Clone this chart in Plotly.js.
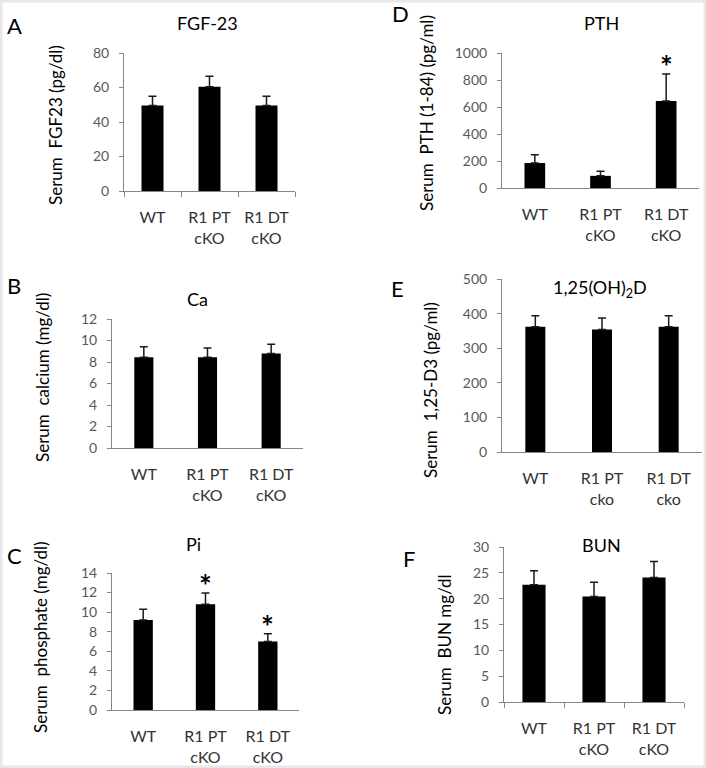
<!DOCTYPE html>
<html><head><meta charset="utf-8">
<script src="https://cdn.plot.ly/plotly-3.0.1.min.js"></script>
<style>html,body{margin:0;padding:0;background:#fff;} #chart{width:706px;height:768px;}</style>
</head><body><div id="chart"></div>
<script>
// ---- data ----
const categories = ["WT", "R1 PT cKO", "R1 DT cKO"];
const tickLabelsCKO = ["WT", "R1 PT<br>cKO", "R1 DT<br>cKO"];
const tickLabelsCko = ["WT", "R1 PT<br>cko", "R1 DT<br>cko"];

const fgf23Mean = [49.5, 60.5, 49.5];
const fgf23Err = [5.5, 6, 5.5];

const pthMean = [185, 90, 645];
const pthErr = [62, 35, 200];
const pthSig = ["", "", "*"];

const caMean = [8.45, 8.45, 8.8];
const caErr = [0.97, 0.85, 0.85];

const vitDMean = [362, 354, 362];
const vitDErr = [32, 33, 32];

const piMean = [9.2, 10.8, 7.0];
const piErr = [1.1, 1.15, 0.8];
const piSig = ["", "*", "*"];

const bunMean = [22.7, 20.4, 24.1];
const bunErr = [2.7, 2.8, 3.1];

// ---- layout helpers ----
const W = 706, H = 768;
const FONT = "Lato, 'Open Sans', sans-serif";
const px = p => p / W;
const py = p => 1 - p / H;

const panels = [
  {n:1, mean:fgf23Mean, err:fgf23Err, sig:null, labels:tickLabelsCKO, l:124, r:295, t:53, b:191, range:[0,80], dtick:20, bw:0.386, xticks:true,
   title:"FGF-23", tx:207, ty:23, letter:"A", lx:14, ly:25, ytitle:"Serum  FGF23 (pg/dl)", ytx:56, yty:125},
  {n:2, mean:pthMean, err:pthErr, sig:pthSig, labels:tickLabelsCKO, l:502, r:699, t:53, b:188, range:[0,1000], dtick:200, bw:0.315, xticks:false,
   title:"PTH", tx:601, ty:23, letter:"D", lx:400, ly:14, ytitle:"Serum  PTH (1-84) (pg/ml)", ytx:427, yty:113},
  {n:3, mean:caMean, err:caErr, sig:null, labels:tickLabelsCKO, l:112, r:303, t:319, b:448, range:[0,12], dtick:2, bw:0.30, xticks:false,
   title:"Ca", tx:197, ty:299, letter:"B", lx:14, ly:285, ytitle:"Serum  calcium (mg/dl)", ytx:42, yty:378},
  {n:4, mean:vitDMean, err:vitDErr, sig:null, labels:tickLabelsCko, l:502, r:702, t:279, b:452, range:[0,500], dtick:100, bw:0.30, xticks:false,
   title:"1,25(OH)<sub>2</sub>D", tx:600, ty:288, letter:"E", lx:398, ly:288, ytitle:"Serum  1,25-D3 (pg/ml)", ytx:430, yty:390},
  {n:5, mean:piMean, err:piErr, sig:piSig, labels:tickLabelsCKO, l:112, r:299, t:573, b:710, range:[0,14], dtick:2, bw:0.31, xticks:false,
   title:"Pi", tx:193, ty:544, letter:"C", lx:14, ly:555, ytitle:"Serum  phosphate (mg/dl)", ytx:40, yty:638},
  {n:6, mean:bunMean, err:bunErr, sig:null, labels:tickLabelsCKO, l:504, r:684, t:547, b:702, range:[0,30], dtick:5, bw:0.385, xticks:true,
   title:"BUN", tx:601, ty:545, letter:"F", lx:409, ly:558, ytitle:"Serum  BUN mg/dl", ytx:444, yty:645}
];

const traces = [];
const layout = {
  width: W, height: H,
  margin: {l:0, r:0, t:0, b:0},
  paper_bgcolor: "#ffffff", plot_bgcolor: "#ffffff",
  showlegend: false,
  font: {family: FONT, color: "#000"},
  annotations: [],
  shapes: [{type:"rect", xref:"paper", yref:"paper", x0:0, x1:1, y0:0, y1:1,
            line:{color:"#e9e6e9", width:5}, fillcolor:"rgba(0,0,0,0)"}]
};

panels.forEach(p => {
  const sfx = p.n === 1 ? "" : String(p.n);
  const xa = "x" + sfx, ya = "y" + sfx;
  traces.push({
    type: "bar", x: categories, y: p.mean, xaxis: xa, yaxis: ya,
    width: p.bw,
    marker: {color: "#000000", line: {width: 0}},
    error_y: {type: "data", symmetric: false, array: p.err, arrayminus: p.err.map(() => 0),
              color: "#1a1a1a", thickness: 1.5, width: 4},
    hoverinfo: "none"
  });
  layout["xaxis" + sfx] = {
    domain: [px(p.l), px(p.r)], anchor: ya, type: "category",
    range: [-0.5, 2.5], tickvals: categories, ticktext: p.labels,
    showline: true, linecolor: "#868686", linewidth: 1,
    ticks: p.xticks ? "outside" : "", tickson: "boundaries", ticklen: 5, tickcolor: "#868686",
    showgrid: false, zeroline: false,
    tickfont: {family: FONT, size: 16, color: "#333333"},
    ticklabelstandoff: 12, fixedrange: true
  };
  layout["yaxis" + sfx] = {
    domain: [py(p.b), py(p.t)], anchor: xa,
    range: p.range, dtick: p.dtick, tick0: 0,
    showline: true, linecolor: "#868686", linewidth: 1,
    ticks: "outside", ticklen: 4, tickcolor: "#868686",
    showgrid: false, zeroline: false,
    tickfont: {family: FONT, size: 14, color: "#595959"},
    ticklabelstandoff: 7, fixedrange: true
  };
  layout.annotations.push({xref:"paper", yref:"paper", x:px(p.tx), y:py(p.ty), text:p.title,
    showarrow:false, xanchor:"center", yanchor:"middle", font:{family:FONT, size:18, color:"#000"}});
  layout.annotations.push({xref:"paper", yref:"paper", x:px(p.lx), y:py(p.ly), text:p.letter,
    showarrow:false, xanchor:"center", yanchor:"middle", font:{family:FONT, size:22, color:"#000"}});
  layout.annotations.push({xref:"paper", yref:"paper", x:px(p.ytx), y:py(p.yty), text:p.ytitle,
    textangle:-90, showarrow:false, xanchor:"center", yanchor:"middle", font:{family:FONT, size:17, color:"#000"}});
  if (p.sig) {
    p.sig.forEach((s, i) => {
      if (s) layout.annotations.push({xref:xa, yref:ya, x:categories[i], y:p.mean[i] + p.err[i],
        text:"<b>" + s + "</b>", showarrow:false, xanchor:"center", yanchor:"bottom", yshift:-12,
        font:{family:FONT, size:30, color:"#000"}});
    });
  }
});

Plotly.newPlot("chart", traces, layout, {staticPlot: true, displayModeBar: false});
</script>
</body></html>
